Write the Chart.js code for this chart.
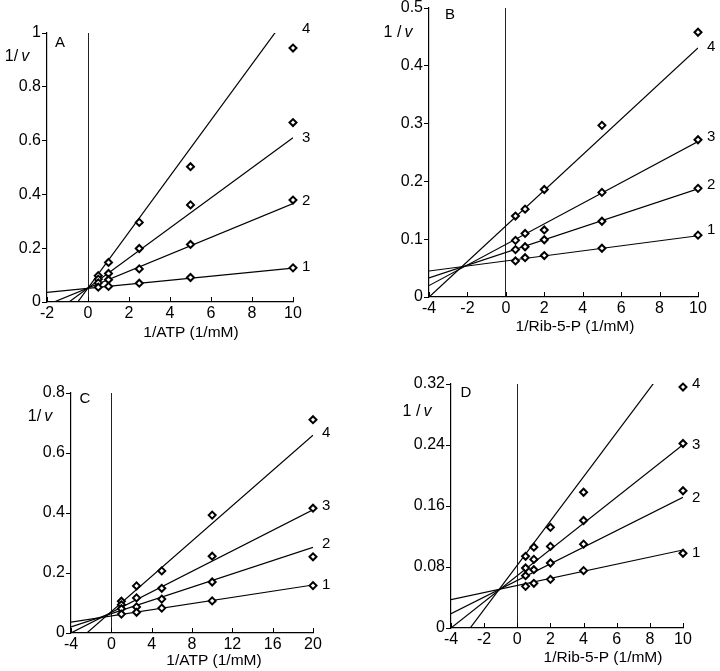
<!DOCTYPE html>
<html>
<head>
<meta charset="utf-8">
<script src="https://cdn.jsdelivr.net/npm/chart.js@4/dist/chart.umd.min.js"></script>
<style>
	body { margin: 0; background: #fff; }
	#wrap { position: relative; width: 720px; height: 671px; }
	canvas { position: absolute; }
</style>
</head>
<body>
<div id="wrap">
	<canvas id="chartA"></canvas>
	<canvas id="chartB"></canvas>
	<canvas id="chartC"></canvas>
	<canvas id="chartD"></canvas>
</div>
<script>
(() => {
	'use strict'

	// Panel A: 1/v vs 1/ATP
	const xA = [0.5, 1, 2.5, 5, 10];
	const yA1 = [0.055, 0.058, 0.070, 0.091, 0.127];
	const yA2 = [0.071, 0.083, 0.123, 0.214, 0.379];
	const yA3 = [0.085, 0.106, 0.199, 0.361, 0.667];
	const yA4 = [0.098, 0.147, 0.296, 0.503, 0.944];
	const slopesA = [0.0075, 0.0314, 0.0559, 0.104];
	const interceptsA = [0.051, 0.052, 0.052, 0.052];
	const labelYA = [0.13, 0.375, 0.611, 1.015];
	const xTicksA = [-2, 0, 2, 4, 6, 8, 10];
	const yTicksA = [0, 0.2, 0.4, 0.6, 0.8, 1];
	const yTickLabelsA = ['0', '0.2', '0.4', '0.6', '0.8', '1'];

	// Panel B: 1/v vs 1/Rib-5-P
	const xB = [0.5, 1, 2, 5, 10];
	const yB1 = [0.0624, 0.068, 0.0717, 0.0844, 0.107];
	const yB2 = [0.082, 0.087, 0.099, 0.131, 0.188];
	const yB3 = [0.098, 0.110, 0.116, 0.181, 0.272];
	const yB4 = [0.140, 0.152, 0.186, 0.297, 0.458];
	const slopesB = [0.00436, 0.011, 0.0178, 0.0308];
	const interceptsB = [0.0624, 0.077, 0.091, 0.123];
	const labelYB = [0.116, 0.194, 0.277, 0.433];
	const xTicksB = [-4, -2, 0, 2, 4, 6, 8, 10];
	const yTicksB = [0, 0.1, 0.2, 0.3, 0.4, 0.5];
	const yTickLabelsB = ['0', '0.1', '0.2', '0.3', '0.4', '0.5'];

	// Panel C: 1/v vs 1/ATP
	const xC = [1, 2.5, 5, 10, 20];
	const yC1 = [0.063, 0.069, 0.083, 0.107, 0.158];
	const yC2 = [0.081, 0.087, 0.113, 0.170, 0.254];
	const yC3 = [0.094, 0.117, 0.149, 0.256, 0.416];
	const yC4 = [0.106, 0.157, 0.207, 0.393, 0.711];
	const slopesC = [0.00517, 0.01107, 0.0171, 0.0294];
	const interceptsC = [0.0567, 0.0643, 0.0685, 0.0714];
	const labelYC = [0.159, 0.298, 0.424, 0.667];
	const xTicksC = [-4, 0, 4, 8, 12, 16, 20];
	const yTicksC = [0, 0.2, 0.4, 0.6, 0.8];
	const yTickLabelsC = ['0', '0.2', '0.4', '0.6', '0.8'];

	// Panel D: 1/v vs 1/Rib-5-P
	const xD = [0.5, 1, 2, 4, 10];
	const yD1 = [0.0546, 0.0586, 0.0638, 0.0752, 0.098];
	const yD2 = [0.0686, 0.0765, 0.0852, 0.110, 0.180];
	const yD3 = [0.0787, 0.090, 0.107, 0.141, 0.242];
	const yD4 = [0.094, 0.106, 0.132, 0.178, 0.316];
	const slopesD = [0.00465, 0.0109, 0.01717, 0.029];
	const interceptsD = [0.0558, 0.0624, 0.0687, 0.0824];
	const labelYD = [0.0988, 0.171, 0.240, 0.320];
	const xTicksD = [-4, -2, 0, 2, 4, 6, 8, 10];
	const yTicksD = [0, 0.08, 0.16, 0.24, 0.32];
	const yTickLabelsD = ['0', '0.08', '0.16', '0.24', '0.32'];

	const seriesNames = ['1', '2', '3', '4'];

	const fontFamily = '"Liberation Sans", Arial, Helvetica, sans-serif';
	const Y_AXIS_W = 40;
	const X_AXIS_H = 30;

	const panels = [
		{ id: 'chartA', box: [0, 0, 360, 345], area: [47, 33, 293, 302], letter: 'A', letterPos: [60, 43],
			yLabel: ['1/', 'v'], yLabelPos: [17, 57], xTitle: '1/ATP (1/mM)', xTitlePos: [191, 333],
			x: xA, series: [yA1, yA2, yA3, yA4], slopes: slopesA, intercepts: interceptsA, labelY: labelYA,
			xTicks: xTicksA, yTicks: yTicksA, yTickLabels: yTickLabelsA },
		{ id: 'chartB', box: [360, 0, 360, 345], area: [429, 8, 698, 297], letter: 'B', letterPos: [450, 15],
			yLabel: ['1 /', 'v'], yLabelPos: [398, 33], xTitle: '1/Rib-5-P (1/mM)', xTitlePos: [575, 327],
			x: xB, series: [yB1, yB2, yB3, yB4], slopes: slopesB, intercepts: interceptsB, labelY: labelYB,
			xTicks: xTicksB, yTicks: yTicksB, yTickLabels: yTickLabelsB },
		{ id: 'chartC', box: [0, 345, 360, 326], area: [71, 393, 313, 633], letter: 'C', letterPos: [85, 399],
			yLabel: ['1/', 'v'], yLabelPos: [40, 417], xTitle: '1/ATP (1/mM)', xTitlePos: [214, 661],
			x: xC, series: [yC1, yC2, yC3, yC4], slopes: slopesC, intercepts: interceptsC, labelY: labelYC,
			xTicks: xTicksC, yTicks: yTicksC, yTickLabels: yTickLabelsC },
		{ id: 'chartD', box: [360, 345, 360, 326], area: [451, 384, 683, 628], letter: 'D', letterPos: [466, 393],
			yLabel: ['1 /', 'v'], yLabelPos: [417, 412], xTitle: '1/Rib-5-P (1/mM)', xTitlePos: [603, 658],
			x: xD, series: [yD1, yD2, yD3, yD4], slopes: slopesD, intercepts: interceptsD, labelY: labelYD,
			xTicks: xTicksD, yTicks: yTicksD, yTickLabels: yTickLabelsD }
	];

	function makeTextPlugin(p) {
		return {
			id: 'panelText',
			afterDraw(chart) {
				const { ctx, chartArea } = chart;
				const xScale = chart.scales.x;
				const yScale = chart.scales.y;
				const ox = p.box[0];
				const oy = p.box[1];
				ctx.save();
				ctx.fillStyle = '#000';
				ctx.strokeStyle = '#000';
				ctx.lineWidth = 1;

				// x ticks pointing inward
				xScale.ticks.forEach((t) => {
					const px = Math.round(xScale.getPixelForValue(t.value)) + 0.5;
					ctx.beginPath();
					ctx.moveTo(px, chartArea.bottom);
					ctx.lineTo(px, chartArea.bottom - 5);
					ctx.stroke();
				});

				ctx.textBaseline = 'middle';

				// curve numbers
				ctx.font = `15px ${fontFamily}`;
				ctx.textAlign = 'left';
				const xEnd = xScale.getPixelForValue(p.xTicks[p.xTicks.length - 1]);
				p.labelY.forEach((v, i) => {
					ctx.fillText(seriesNames[i], xEnd + 9, yScale.getPixelForValue(v));
				});

				// panel letter
				ctx.textAlign = 'center';
				ctx.fillText(p.letter, p.letterPos[0] - ox, p.letterPos[1] - oy);

				// x title
				ctx.font = `15.5px ${fontFamily}`;
				ctx.fillText(p.xTitle, p.xTitlePos[0] - ox, p.xTitlePos[1] - oy);

				// 1/v label
				ctx.font = `16px ${fontFamily}`;
				const w1 = ctx.measureText(p.yLabel[0]).width;
				ctx.font = `italic 16px ${fontFamily}`;
				const w2 = ctx.measureText(p.yLabel[1]).width;
				const gap = 3;
				const startX = p.yLabelPos[0] - ox - (w1 + gap + w2) / 2;
				ctx.textAlign = 'left';
				ctx.font = `16px ${fontFamily}`;
				ctx.fillText(p.yLabel[0], startX, p.yLabelPos[1] - oy);
				ctx.font = `italic 16px ${fontFamily}`;
				ctx.fillText(p.yLabel[1], startX + w1 + gap, p.yLabelPos[1] - oy);
				ctx.restore();
			}
		};
	}

	function buildPanel(p) {
		const canvas = document.getElementById(p.id);
		canvas.width = p.box[2];
		canvas.height = p.box[3];
		canvas.style.left = p.box[0] + 'px';
		canvas.style.top = p.box[1] + 'px';

		const padding = {
			left: p.area[0] - p.box[0] - Y_AXIS_W,
			top: p.area[1] - p.box[1],
			right: p.box[0] + p.box[2] - p.area[2],
			bottom: p.box[1] + p.box[3] - p.area[3] - X_AXIS_H
		};
		const xMin = p.xTicks[0];
		const xMax = p.xTicks[p.xTicks.length - 1];

		const pointSets = p.series.map((ys) => ({
			data: p.x.map((x, i) => ({ x: x, y: ys[i] })),
			showLine: false,
			pointStyle: 'rectRot',
			pointRadius: 3.5,
			pointBorderWidth: 2,
			borderColor: '#000',
			backgroundColor: '#fff',
			clip: false
		}));
		const lineSets = p.slopes.map((m, i) => ({
			data: [
				{ x: xMin, y: p.intercepts[i] + m * xMin },
				{ x: xMax, y: p.intercepts[i] + m * xMax }
			],
			showLine: true,
			pointRadius: 0,
			borderColor: '#000',
			borderWidth: 1.2
		}));

		return new Chart(canvas, {
			type: 'scatter',
			data: { datasets: pointSets.concat(lineSets) },
			options: {
				responsive: false,
				animation: false,
				layout: { padding: padding },
				plugins: {
					legend: { display: false },
					tooltip: { enabled: false }
				},
				scales: {
					x: {
						type: 'linear',
						min: xMin,
						max: xMax,
						afterBuildTicks: (scale) => { scale.ticks = p.xTicks.map((v) => ({ value: v })); },
						afterFit: (scale) => { scale.height = X_AXIS_H; scale.paddingLeft = 0; scale.paddingRight = 0; },
						border: { display: true, color: '#000', width: 1.2 },
						grid: {
							drawTicks: false,
							drawOnChartArea: true,
							color: (c) => (c.tick && c.tick.value === 0 ? '#222' : 'rgba(0,0,0,0)'),
							lineWidth: 1
						},
						ticks: {
							color: '#000',
							font: { family: fontFamily, size: 16 },
							padding: 2,
							maxRotation: 0,
							autoSkip: false
						}
					},
					y: {
						type: 'linear',
						min: p.yTicks[0],
						max: p.yTicks[p.yTicks.length - 1],
						afterBuildTicks: (scale) => { scale.ticks = p.yTicks.map((v) => ({ value: v })); },
						afterFit: (scale) => { scale.width = Y_AXIS_W; scale.paddingTop = 0; scale.paddingBottom = 0; },
						border: { display: true, color: '#000', width: 1.2 },
						grid: {
							drawTicks: true,
							tickLength: 5,
							drawOnChartArea: false,
							color: '#000',
							lineWidth: 1
						},
						ticks: {
							color: '#000',
							font: { family: fontFamily, size: 16 },
							padding: 1,
							autoSkip: false,
							callback: (v, i) => p.yTickLabels[i]
						}
					}
				}
			},
			plugins: [makeTextPlugin(p)]
		});
	}

	panels.forEach(buildPanel);
})()
</script>
</body>
</html>
